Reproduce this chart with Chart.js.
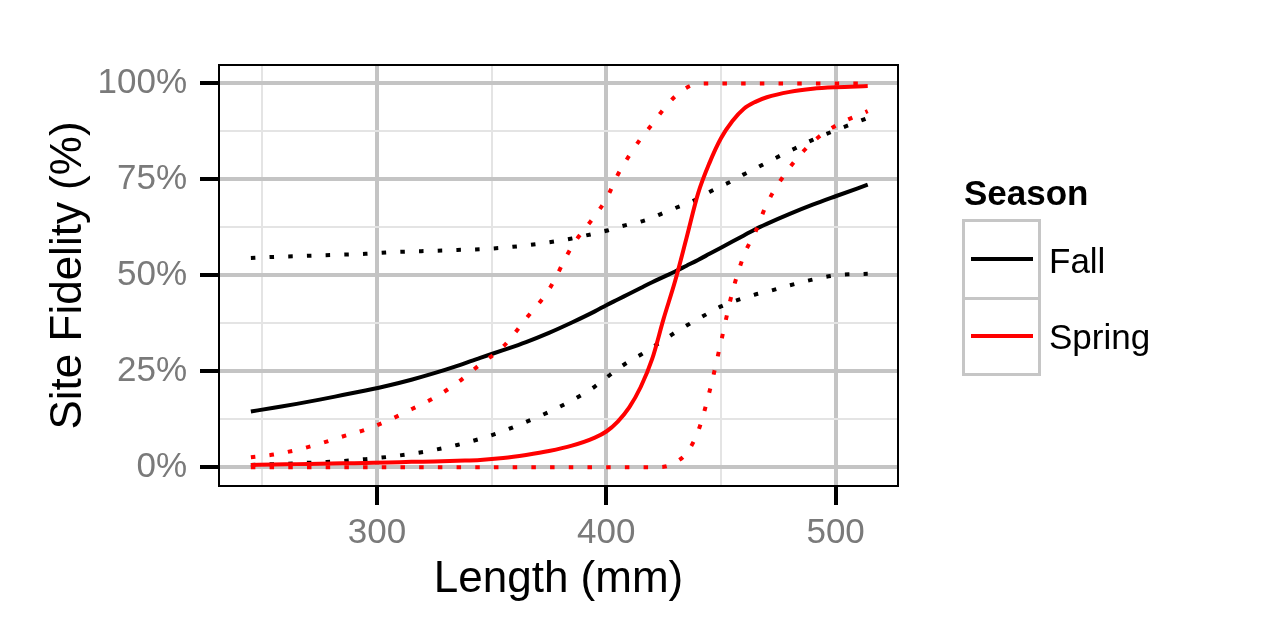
<!DOCTYPE html>
<html>
<head>
<meta charset="utf-8">
<script src="https://cdn.jsdelivr.net/npm/chart.js@4.4.1/dist/chart.umd.min.js"></script>
<style>
  body { margin: 0; background: #fff; }
  #wrap { position: relative; width: 1280px; height: 640px; font-family: "Liberation Sans", Arial, sans-serif; color: #000; }
  #fidelity { position: absolute; left: 0; top: 0; }
  .legend-title { position: absolute; left: 964px; top: 172px; font-size: 35px; line-height: 42px; font-weight: bold; }
  .key-box { position: absolute; left: 962px; width: 79px; box-sizing: border-box; border: 3px solid #c6c6c6; background: #fff; }
  .key-line { position: absolute; left: 971px; width: 62px; height: 4px; }
  .key-label { position: absolute; left: 1049px; font-size: 35px; line-height: 42px; }
</style>
</head>
<body>
<div id="wrap">
  <canvas id="fidelity" width="1280" height="640"></canvas>
  <div class="legend-title">Season</div>
  <div class="key-box" style="top:219px;height:81px"></div>
  <div class="key-box" style="top:297px;height:79px"></div>
  <div class="key-line" style="top:257px;background:#000"></div>
  <div class="key-line" style="top:334px;background:#ff0000"></div>
  <div class="key-label" style="top:240px">Fall</div>
  <div class="key-label" style="top:316px">Spring</div>
</div>
<script>
// fork length (mm) where the curves were read
const lengthMm = [245, 255, 265, 275, 285, 295, 305, 315, 325, 335, 345, 355, 365, 375, 385, 395,
  400, 405, 410, 415, 420, 425, 430, 435, 440, 445, 450, 455, 460, 465, 470, 480, 490, 500, 514];

// site fidelity (%) - fitted and confidence bounds
const fallFit = [14.5, 15.5, 16.5, 17.6, 18.8, 20.0, 21.3, 22.8, 24.5, 26.4, 28.5, 30.5, 32.6, 35.0, 37.7, 40.6,
  42.2, 43.7, 45.2, 46.7, 48.2, 49.6, 51.0, 52.5, 54.0, 55.6, 57.2, 58.8, 60.4, 62.0, 63.4, 66.0, 68.4, 70.6, 73.6];
const fallLower = [0.6, 0.8, 1.0, 1.3, 1.6, 2.1, 2.7, 3.5, 4.5, 5.8, 7.4, 9.4, 11.8, 14.4, 17.4, 21.0,
  23.3, 25.6, 27.6, 29.3, 31.2, 33.1, 35.1, 36.9, 38.6, 40.3, 41.9, 43.1, 44.1, 45.0, 45.7, 47.4, 48.9, 50.0, 50.4];
const fallUpper = [54.5, 54.8, 55.0, 55.2, 55.4, 55.6, 56.0, 56.2, 56.4, 56.6, 56.8, 57.2, 57.8, 58.6, 59.6, 60.9,
  61.6, 62.5, 63.3, 64.0, 65.0, 66.3, 67.5, 68.7, 70.0, 71.7, 73.2, 74.6, 76.3, 77.8, 79.4, 82.4, 85.3, 87.8, 91.0];

const springFit = [0.6, 0.7, 0.8, 0.9, 1.0, 1.1, 1.2, 1.4, 1.5, 1.7, 1.9, 2.4, 3.2, 4.2, 5.6, 7.7,
  9.3, 11.9, 15.6, 20.9, 28.2, 38.7, 48.5, 59.8, 71.3, 79.3, 85.7, 90.2, 93.4, 95.2, 96.4, 97.8, 98.6, 99.0, 99.3];
const springLower = [0, 0, 0, 0, 0, 0, 0, 0, 0, 0, 0, 0, 0, 0, 0, 0,
  0, 0, 0, 0, 0, 0.1, 1.2, 3.7, 9.3, 19.7, 32.6, 45.7, 55.2, 61.3, 68.6, 78.1, 84.7, 89.0, 92.8];
const springUpper = [2.6, 3.3, 4.5, 6.1, 8.0, 9.8, 12.2, 15.1, 18.1, 22.0, 26.8, 31.4, 38.7, 46.3, 57.5, 65.5,
  69.9, 76.2, 81.2, 85.6, 89.4, 93.3, 96.6, 98.9, 99.9, 100, 100, 100, 100, 100, 100, 100, 100, 100, 100];

// axis breaks (major get labels, minor are just grid)
const xBreaks = [250, 300, 350, 400, 450, 500];
const xLabelled = [300, 400, 500];
const yBreaks = [0, 12.5, 25, 37.5, 50, 62.5, 75, 87.5, 100];
const yLabelled = [0, 25, 50, 75, 100];

const FALL = '#000000';
const SPRING = '#ff0000';
const DOTS = [4.5, 14.2];

function series(values, color, dotted) {
  return {
    data: lengthMm.map((x, i) => ({ x, y: values[i] })),
    borderColor: color,
    borderWidth: 4,
    borderDash: dotted ? DOTS : [],
    borderCapStyle: 'butt',
    borderJoinStyle: 'round',
    cubicInterpolationMode: 'monotone',
    pointRadius: 0,
    fill: false,
  };
}

const panelBorder = {
  id: 'panelBorder',
  afterDatasetsDraw(chart) {
    const { ctx, chartArea: a } = chart;
    ctx.save();
    ctx.strokeStyle = '#000';
    ctx.lineWidth = 2;
    ctx.strokeRect(a.left, a.top, a.right - a.left, a.bottom - a.top);
    ctx.restore();
  },
};

const major = (list) => (c) => list.includes(c.tick && c.tick.value);

new Chart(document.getElementById('fidelity'), {
  type: 'line',
  data: {
    datasets: [
      series(springFit, SPRING, false),
      series(springLower, SPRING, true),
      series(springUpper, SPRING, true),
      series(fallFit, FALL, false),
      series(fallLower, FALL, true),
      series(fallUpper, FALL, true),
    ],
  },
  options: {
    responsive: false,
    animation: false,
    events: [],
    layout: { padding: { left: 0, top: 65, right: 382, bottom: 0 } },
    plugins: { legend: { display: false }, tooltip: { enabled: false } },
    scales: {
      x: {
        type: 'linear',
        min: 231.1,
        max: 527.2,
        afterBuildTicks: (s) => { s.ticks = xBreaks.map((v) => ({ value: v })); },
        afterFit: (s) => { s.height = 154; },
        ticks: {
          autoSkip: false,
          maxRotation: 0,
          padding: 7,
          color: '#7a7a7a',
          font: { family: 'Liberation Sans', size: 35 },
          callback: (v) => (xLabelled.includes(v) ? String(v) : ''),
        },
        grid: {
          color: (c) => (major(xLabelled)(c) ? '#c4c4c4' : '#e4e4e4'),
          lineWidth: (c) => (major(xLabelled)(c) ? 4 : 2),
          tickLength: 19,
          tickWidth: 4,
          tickColor: (c) => (major(xLabelled)(c) ? '#000' : 'rgba(0,0,0,0)'),
        },
        border: { display: false },
        title: {
          display: true,
          text: 'Length (mm)',
          color: '#000',
          font: { family: 'Liberation Sans', size: 44 },
          padding: { top: 0, bottom: 34 },
        },
      },
      y: {
        min: -4.9,
        max: 104.8,
        afterBuildTicks: (s) => { s.ticks = yBreaks.map((v) => ({ value: v })); },
        afterFit: (s) => { s.width = 219; },
        ticks: {
          autoSkip: false,
          padding: 13,
          color: '#7a7a7a',
          font: { family: 'Liberation Sans', size: 35 },
          callback: (v) => (yLabelled.includes(v) ? v + '%' : ''),
        },
        grid: {
          color: (c) => (major(yLabelled)(c) ? '#c4c4c4' : '#e4e4e4'),
          lineWidth: (c) => (major(yLabelled)(c) ? 4 : 2),
          tickLength: 19,
          tickWidth: 4,
          tickColor: (c) => (major(yLabelled)(c) ? '#000' : 'rgba(0,0,0,0)'),
        },
        border: { display: false },
        title: {
          display: true,
          text: 'Site Fidelity (%)',
          color: '#000',
          font: { family: 'Liberation Sans', size: 44 },
          padding: { top: 42, bottom: 0 },
        },
      },
    },
  },
  plugins: [panelBorder],
});
</script>
</body>
</html>
